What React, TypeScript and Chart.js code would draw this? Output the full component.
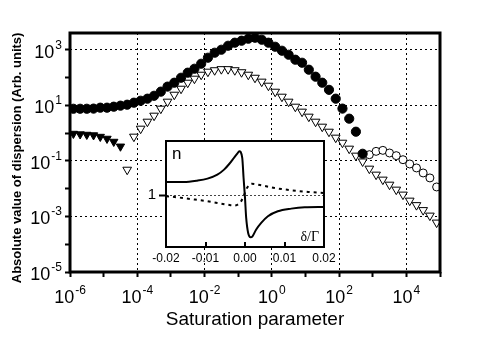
import React, { useEffect, useRef } from 'react';
import { Chart, registerables } from 'chart.js';

Chart.register(...registerables);

const FONT = "'Liberation Sans', Arial, Helvetica, sans-serif";

// ---- Main chart data (Saturation parameter vs |dispersion|) ----
const filledCircleX = [
  1.26e-6, 2.0e-6, 3.16e-6, 5.01e-6, 7.94e-6,
  1.26e-5, 2.0e-5, 3.16e-5, 5.01e-5, 7.94e-5,
  1.26e-4, 2.0e-4, 3.16e-4, 5.01e-4, 7.94e-4,
  1.26e-3, 2.0e-3, 3.16e-3, 5.01e-3, 7.94e-3,
  1.26e-2, 2.0e-2, 3.16e-2, 5.01e-2, 7.94e-2,
  0.126, 0.2, 0.316, 0.501, 0.794,
  1.26, 2.0, 3.16, 5.01, 7.94,
  12.6, 20.0, 31.6, 50.1, 79.4,
  126, 200, 316, 501,
];
const filledCircleY = [
  7.5, 7.5, 7.5, 7.6, 8.2,
  8.2, 8.9, 9.7, 10.5, 12.4,
  14.6, 17.3, 22, 31, 47,
  65, 98, 149, 207, 313,
  515, 780, 1000, 1390, 1790,
  2110, 2490, 2700, 2290, 1790,
  1280, 920, 660, 437, 340,
  191, 107, 65, 36, 17.3,
  7.6, 3.3, 1.12, 0.18,
];

const openCircleX = [794, 1260, 2000, 3160, 5010, 7940, 12600, 20000, 31600, 50100, 79400];
const openCircleY = [0.167, 0.22, 0.239, 0.192, 0.154, 0.11, 0.0773, 0.0556, 0.0367, 0.0243, 0.0115];

const filledTriangleX = [1.26e-6, 2.0e-6, 3.16e-6, 5.01e-6, 7.94e-6, 1.26e-5, 2.0e-5, 3.16e-5];
const filledTriangleY = [0.95, 0.91, 0.875, 0.84, 0.74, 0.63, 0.49, 0.33];

const openTriangleX = [
  5.01e-5, 7.94e-5,
  1.26e-4, 2.0e-4, 3.16e-4, 5.01e-4, 7.94e-4,
  1.26e-3, 2.0e-3, 3.16e-3, 5.01e-3, 7.94e-3,
  1.26e-2, 2.0e-2, 3.16e-2, 5.01e-2, 7.94e-2,
  0.126, 0.2, 0.316, 0.501, 0.794,
  1.26, 2.0, 3.16, 5.01, 7.94,
  12.6, 20.0, 31.6, 50.1, 79.4,
  126, 200, 316, 501, 794,
  1260, 2000, 3160, 5010, 7940,
  12600, 20000, 31600, 50100, 79400,
];
const openTriangleY = [
  0.048, 0.743,
  1.44, 2.57, 4.23, 7.55, 13.5,
  24, 39.5, 65, 90.6, 126,
  162, 183, 200, 200, 183,
  155, 126, 98, 71, 50.7,
  30.8, 20.4, 13.5, 8.9, 5.9,
  3.9, 2.57, 1.7, 1.12, 0.684,
  0.45, 0.275, 0.154, 0.095, 0.0524,
  0.0319, 0.0211, 0.0139, 0.0092, 0.0061,
  0.0037, 0.00255, 0.00169, 0.00107, 0.0006,
];

const xTickDecades = [-6, -5, -4, -3, -2, -1, 0, 1, 2, 3, 4, 5];
const yTickDecades = [-5, -4, -3, -2, -1, 0, 1, 2, 3];
const xTickLabelExponents = [-6, -4, -2, 0, 2, 4];
const yTickLabelExponents = [-5, -3, -1, 1, 3];

// ---- Inset data (n vs detuning) ----
const insetSolidX = [
  -0.02, -0.0155, -0.0121, -0.0095, -0.007, -0.0053, -0.004, -0.0027, -0.0019, -0.00146,
  -0.0007, -0.00036, 0.0, 0.0003, 0.0008, 0.0014, 0.0019, 0.0028, 0.0041, 0.0058,
  0.0083, 0.0117, 0.0151, 0.02,
];
const insetSolidY = [
  1.125, 1.125, 1.138, 1.157, 1.194, 1.242, 1.295, 1.358, 1.395, 1.415,
  1.352, 1.163, 0.975, 0.786, 0.644, 0.604, 0.613, 0.675, 0.739, 0.802,
  0.849, 0.874, 0.887, 0.89,
];
const insetDashedX = [
  -0.02, -0.0172, -0.0138, -0.0104, -0.007, -0.0044, -0.0027, -0.001, -0.0002, 0.0005,
  0.0017, 0.0041, 0.0075, 0.0117, 0.016, 0.02,
];
const insetDashedY = [
  0.991, 0.981, 0.965, 0.949, 0.927, 0.911, 0.902, 0.943, 1.006, 1.069,
  1.109, 1.094, 1.069, 1.047, 1.031, 1.022,
];
const insetXTicks = [-0.02, -0.01, 0, 0.01, 0.02];
const insetXTickLabels = ['-0.02', '-0.01', '0.00', '0.01', '0.02'];
const insetInnerTicks = [-0.01, 0, 0.01];
const insetYTicks = [1];
const insetYTickLabels = ['1'];

function pts(xs: number[], ys: number[]) {
  return xs.map((x, i) => ({ x, y: ys[i] }));
}

function drawPow(ctx: CanvasRenderingContext2D, exp: number, x: number, y: number, align: 'center' | 'right') {
  const base = '10';
  const sup = String(exp);
  ctx.font = `18px ${FONT}`;
  const wb = ctx.measureText(base).width;
  ctx.font = `12px ${FONT}`;
  const ws = ctx.measureText(sup).width;
  const gap = 1;
  const total = wb + gap + ws;
  const left = align === 'center' ? x - total / 2 : x - total;
  ctx.textAlign = 'left';
  ctx.textBaseline = 'alphabetic';
  ctx.font = `18px ${FONT}`;
  ctx.fillText(base, left, y);
  ctx.font = `12px ${FONT}`;
  ctx.fillText(sup, left + wb + gap, y - 9);
}

const mainDecor = {
  id: 'mainDecor',
  afterDraw(chart: any) {
    const { ctx, chartArea, scales } = chart;
    ctx.save();
    ctx.strokeStyle = '#000';
    ctx.lineWidth = 3;
    ctx.strokeRect(chartArea.left, chartArea.top, chartArea.right - chartArea.left, chartArea.bottom - chartArea.top);
    ctx.fillStyle = '#000';
    xTickLabelExponents.forEach((e) => {
      const px = scales.x.getPixelForValue(Math.pow(10, e));
      drawPow(ctx, e, px, chartArea.bottom + 31, 'center');
    });
    yTickLabelExponents.forEach((e) => {
      const py = scales.y.getPixelForValue(Math.pow(10, e));
      drawPow(ctx, e, chartArea.left - 8, py + 8, 'right');
    });
    ctx.restore();
  },
};

const insetDecor = {
  id: 'insetDecor',
  beforeDraw(chart: any) {
    const { ctx, chartArea } = chart;
    ctx.save();
    ctx.fillStyle = '#fff';
    ctx.fillRect(chartArea.left, chartArea.top, chartArea.right - chartArea.left, chartArea.bottom - chartArea.top);
    ctx.restore();
  },
  afterDraw(chart: any) {
    const { ctx, chartArea, scales } = chart;
    ctx.save();
    ctx.strokeStyle = '#000';
    ctx.lineWidth = 2;
    insetInnerTicks.forEach((v) => {
      const px = Math.round(scales.x.getPixelForValue(v));
      ctx.beginPath();
      ctx.moveTo(px, chartArea.bottom);
      ctx.lineTo(px, chartArea.bottom - 5);
      ctx.stroke();
    });
    ctx.strokeRect(chartArea.left, chartArea.top, chartArea.right - chartArea.left, chartArea.bottom - chartArea.top);
    ctx.fillStyle = '#000';
    ctx.textBaseline = 'alphabetic';
    ctx.textAlign = 'left';
    ctx.font = `17px ${FONT}`;
    ctx.fillText('n', chartArea.left + 6, chartArea.top + 18);
    ctx.textAlign = 'right';
    ctx.font = `14px 'Liberation Serif', 'Times New Roman', serif`;
    ctx.fillText('δ/Γ', chartArea.right - 5, chartArea.bottom - 6);
    ctx.restore();
  },
};

function decadeOf(v: number) {
  return Math.round(Math.log10(v));
}

export default function App() {
  const mainRef = useRef<HTMLCanvasElement>(null);
  const insetRef = useRef<HTMLCanvasElement>(null);

  useEffect(() => {
    const main = new Chart(mainRef.current as HTMLCanvasElement, {
      type: 'scatter',
      data: {
        datasets: [
          {
            label: 'filled circles',
            data: pts(filledCircleX, filledCircleY),
            pointStyle: 'circle',
            pointRadius: 4.6,
            pointBackgroundColor: '#000',
            pointBorderColor: '#000',
            pointBorderWidth: 1,
          },
          {
            label: 'open circles',
            data: pts(openCircleX, openCircleY),
            pointStyle: 'circle',
            pointRadius: 4,
            pointBackgroundColor: '#fff',
            pointBorderColor: '#000',
            pointBorderWidth: 1,
          },
          {
            label: 'filled triangles',
            data: pts(filledTriangleX, filledTriangleY),
            pointStyle: 'triangle',
            rotation: 180,
            pointRadius: 4.8,
            pointBackgroundColor: '#000',
            pointBorderColor: '#000',
            pointBorderWidth: 1,
          },
          {
            label: 'open triangles',
            data: pts(openTriangleX, openTriangleY),
            pointStyle: 'triangle',
            rotation: 180,
            pointRadius: 5,
            pointBackgroundColor: '#fff',
            pointBorderColor: '#000',
            pointBorderWidth: 1,
          },
        ] as any,
      },
      options: {
        animation: false,
        responsive: false,
        devicePixelRatio: 1,
        layout: { padding: { left: 0, top: 33, right: 45, bottom: 0 } },
        plugins: { legend: { display: false }, tooltip: { enabled: false } },
        scales: {
          x: {
            type: 'logarithmic',
            position: 'bottom',
            min: 1e-6,
            max: 1e5,
            afterBuildTicks: (s: any) => {
              s.ticks = xTickDecades.map((e) => ({ value: Math.pow(10, e) }));
            },
            afterFit: (s: any) => {
              s.height = 65;
            },
            ticks: { display: false },
            grid: {
              color: (c: any) => {
                if (!c.tick) return 'rgba(0,0,0,0)';
                const e = decadeOf(c.tick.value);
                return xTickLabelExponents.includes(e) && e !== -6 ? '#000' : 'rgba(0,0,0,0)';
              },
              lineWidth: 1,
              drawTicks: true,
              tickLength: 5,
              tickWidth: 2,
              tickColor: '#000',
            },
            border: { display: false, dash: [2, 3] },
            title: {
              display: true,
              text: 'Saturation parameter',
              color: '#000',
              font: { size: 19, family: FONT },
              padding: { top: 0, bottom: 6 },
            },
          },
          y: {
            type: 'logarithmic',
            position: 'left',
            min: 1e-5,
            max: 4000,
            afterBuildTicks: (s: any) => {
              s.ticks = yTickDecades.map((e) => ({ value: Math.pow(10, e) }));
            },
            afterFit: (s: any) => {
              s.width = 70;
            },
            ticks: { display: false },
            grid: {
              color: (c: any) => {
                if (!c.tick) return 'rgba(0,0,0,0)';
                const e = decadeOf(c.tick.value);
                return yTickLabelExponents.includes(e) && e !== -5 ? '#000' : 'rgba(0,0,0,0)';
              },
              lineWidth: 1,
              drawTicks: true,
              tickLength: 5,
              tickWidth: 2,
              tickColor: '#000',
            },
            border: { display: false, dash: [2, 3] },
            title: {
              display: true,
              text: 'Absolute value of dispersion (Arb. units)   ',
              color: '#000',
              font: { size: 13, family: FONT, weight: 'bold' },
              padding: { top: 10, bottom: 0 },
            },
          },
        },
      } as any,
      plugins: [mainDecor],
    });

    const inset = new Chart(insetRef.current as HTMLCanvasElement, {
      type: 'scatter',
      data: {
        datasets: [
          {
            label: 'n solid',
            data: pts(insetSolidX, insetSolidY),
            showLine: true,
            pointRadius: 0,
            borderColor: '#000',
            borderWidth: 2,
            cubicInterpolationMode: 'monotone',
          },
          {
            label: 'n dashed',
            data: pts(insetDashedX, insetDashedY),
            showLine: true,
            pointRadius: 0,
            borderColor: '#000',
            borderWidth: 2,
            borderDash: [3, 4],
            cubicInterpolationMode: 'monotone',
          },
        ] as any,
      },
      options: {
        animation: false,
        responsive: false,
        devicePixelRatio: 1,
        layout: { padding: { left: 0, top: 13, right: 16, bottom: 0 } },
        plugins: { legend: { display: false }, tooltip: { enabled: false } },
        scales: {
          x: {
            type: 'linear',
            min: -0.02,
            max: 0.02,
            afterBuildTicks: (s: any) => {
              s.ticks = insetXTicks.map((v) => ({ value: v }));
            },
            afterFit: (s: any) => {
              s.height = 23;
            },
            ticks: {
              autoSkip: false,
              maxRotation: 0,
              color: '#000',
              padding: 4,
              font: { size: 12, family: FONT },
              callback: (_v: any, i: number) => insetXTickLabels[i],
            },
            grid: { display: false, drawTicks: false },
            border: { display: false },
          },
          y: {
            type: 'linear',
            min: 0.512,
            max: 1.512,
            afterBuildTicks: (s: any) => {
              s.ticks = insetYTicks.map((v) => ({ value: v }));
            },
            afterFit: (s: any) => {
              s.width = 26;
            },
            ticks: {
              color: '#000',
              padding: 3,
              font: { size: 15, family: FONT },
              callback: (_v: any, i: number) => insetYTickLabels[i],
            },
            grid: {
              color: '#444',
              lineWidth: 1,
              drawTicks: true,
              tickLength: 7,
              tickWidth: 2,
              tickColor: '#000',
            },
            border: { display: false, dash: [2, 2] },
          },
        },
      } as any,
      plugins: [insetDecor],
    });

    return () => {
      main.destroy();
      inset.destroy();
    };
  }, []);

  return (
    <div style={{ position: 'absolute', left: 0, top: 0, width: 485, height: 337, background: '#fff' }}>
      <canvas ref={mainRef} width={485} height={337} style={{ position: 'absolute', left: 0, top: 0 }} />
      <canvas ref={insetRef} width={200} height={142} style={{ position: 'absolute', left: 140, top: 128 }} />
    </div>
  );
}
